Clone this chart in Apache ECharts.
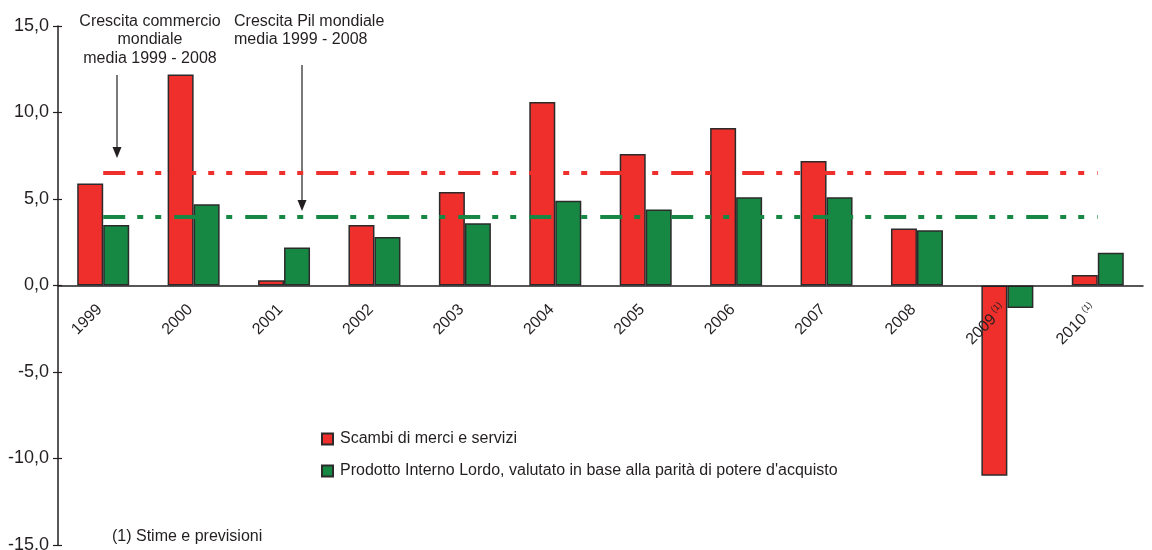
<!DOCTYPE html>
<html>
<head>
<meta charset="utf-8">
<script src="https://cdn.jsdelivr.net/npm/echarts@6/dist/echarts.min.js"></script>
<style>
  html, body { margin: 0; padding: 0; background: #fff; }
  #chart { width: 1152px; height: 550px; }
</style>
</head>
<body>
<div id="chart"></div>
<script>
const years = ['1999', '2000', '2001', '2002', '2003', '2004', '2005', '2006', '2007', '2008', '2009', '2010']
const trade = [5.9, 12.2, 0.3, 3.5, 5.4, 10.6, 7.6, 9.1, 7.2, 3.3, -11.0, 0.6]
const gdp = [3.5, 4.7, 2.2, 2.8, 3.6, 4.9, 4.4, 5.1, 5.1, 3.2, -1.3, 1.9]
const estimated = ['2009', '2010'] // anni con nota (1)
const avgTrade = 6.5
const avgGdp = 4.0
const yMin = -15
const yMax = 15

const txt = '#231f20'
const font = 'Liberation Sans'
const red = '#ee2f2b'
const green = '#178843'

const gridTop = 26
const gridBottom = 5
const gridH = 550 - gridTop - gridBottom
// l'asse x sta sullo zero: lo sposto su dal fondo della griglia
const zeroOffset = -gridH * (0 - yMin) / (yMax - yMin)

function avgLine(v, color) {
  return [{ coord: [years[0], v], lineStyle: { color: color } }, { coord: [years[years.length - 1], v] }]
}

function arrow(x, y1, y2) {
  return [
    { type: 'line', shape: { x1: x, y1: y1, x2: x, y2: y2 - 8 }, style: { stroke: txt, lineWidth: 1.2 } },
    { type: 'polygon', shape: { points: [[x - 4.5, y2 - 11], [x + 4.5, y2 - 11], [x, y2]] }, style: { fill: txt } }
  ]
}

const tickStyle = { color: txt, width: 1.2 }

const option = {
  animation: false,
  textStyle: { fontFamily: font },
  grid: { left: 58, right: 9, top: gridTop, bottom: gridBottom, outerBoundsMode: 'none' },
  legend: {
    orient: 'vertical',
    left: 321,
    top: 431,
    padding: 0,
    itemWidth: 11,
    itemHeight: 11,
    itemGap: 16,
    icon: 'rect',
    textStyle: { fontSize: 16, color: txt, fontFamily: font, padding: [0, 0, 0, 2] },
    data: ['Scambi di merci e servizi', "Prodotto Interno Lordo, valutato in base alla parità di potere d'acquisto"]
  },
  xAxis: [
    {
      type: 'category',
      data: years,
      offset: zeroOffset,
      z: 10,
      axisLine: { onZero: false, lineStyle: { color: txt, width: 1.5 } },
      axisTick: { length: 5, lineStyle: tickStyle },
      axisLabel: {
        rotate: 45,
        margin: 18,
        fontSize: 16,
        color: txt,
        interval: 0,
        padding: [0, 5, 0, 0],
        formatter: v => estimated.includes(v) ? `{y|${v}}{s|(1)}` : v,
        rich: {
          y: { fontSize: 16, color: txt, fontFamily: font },
          s: { fontSize: 9, color: txt, fontFamily: font, verticalAlign: 'top', padding: [0, 0, 10, 3] }
        }
      }
    },
    {
      // tacche interne (attraversano l'asse)
      type: 'category',
      data: years,
      position: 'bottom',
      offset: zeroOffset,
      z: 10,
      axisLine: { show: false, onZero: false },
      axisTick: { inside: true, length: 4, lineStyle: tickStyle },
      axisLabel: { show: false }
    }
  ],
  yAxis: [
    {
      type: 'value',
      min: yMin,
      max: yMax,
      interval: 5,
      splitLine: { show: false },
      axisLine: { show: true, lineStyle: { color: txt, width: 1.5 } },
      axisTick: { show: true, length: 5, lineStyle: tickStyle },
      axisLabel: {
        fontSize: 18,
        color: txt,
        margin: 9,
        formatter: v => v.toFixed(1).replace('.', ',')
      }
    },
    {
      type: 'value',
      position: 'left',
      min: yMin,
      max: yMax,
      interval: 5,
      splitLine: { show: false },
      axisLine: { show: false, onZero: false },
      axisTick: { show: true, inside: true, length: 4, lineStyle: tickStyle },
      axisLabel: { show: false }
    }
  ],
  series: [
    {
      name: 'Scambi di merci e servizi',
      type: 'bar',
      data: trade,
      barWidth: 26,
      barGap: '0%',
      itemStyle: { color: red, borderColor: '#2b2b2b', borderWidth: 1.5 }
    },
    {
      name: "Prodotto Interno Lordo, valutato in base alla parità di potere d'acquisto",
      type: 'bar',
      data: gdp,
      barWidth: 26,
      itemStyle: { color: green, borderColor: '#2b2b2b', borderWidth: 1.5 }
    },
    {
      // medie 1999 - 2008
      name: 'media',
      type: 'line',
      data: [],
      z: 5,
      markLine: {
        silent: true,
        symbol: ['none', 'none'],
        label: { show: false },
        lineStyle: { width: 4, type: [22, 12, 6, 12, 6, 13] },
        data: [avgLine(avgTrade, red), avgLine(avgGdp, green)]
      }
    }
  ],
  graphic: [
    {
      type: 'text', x: 150, y: 12,
      style: {
        text: 'Crescita commercio\nmondiale\nmedia 1999 - 2008',
        font: '16px "Liberation Sans"', fill: txt, align: 'center', lineHeight: 18.5
      }
    },
    {
      type: 'text', x: 234, y: 12,
      style: {
        text: 'Crescita Pil mondiale\nmedia 1999 - 2008',
        font: '16px "Liberation Sans"', fill: txt, lineHeight: 18.5
      }
    },
    {
      type: 'text', x: 112, y: 529,
      style: { text: '(1) Stime e previsioni', font: '16px "Liberation Sans"', fill: txt }
    },
    ...arrow(117, 75, 158),
    ...arrow(302, 65, 211)
  ]
}

const chart = echarts.init(document.getElementById('chart'))
chart.setOption(option)
</script>
</body>
</html>
